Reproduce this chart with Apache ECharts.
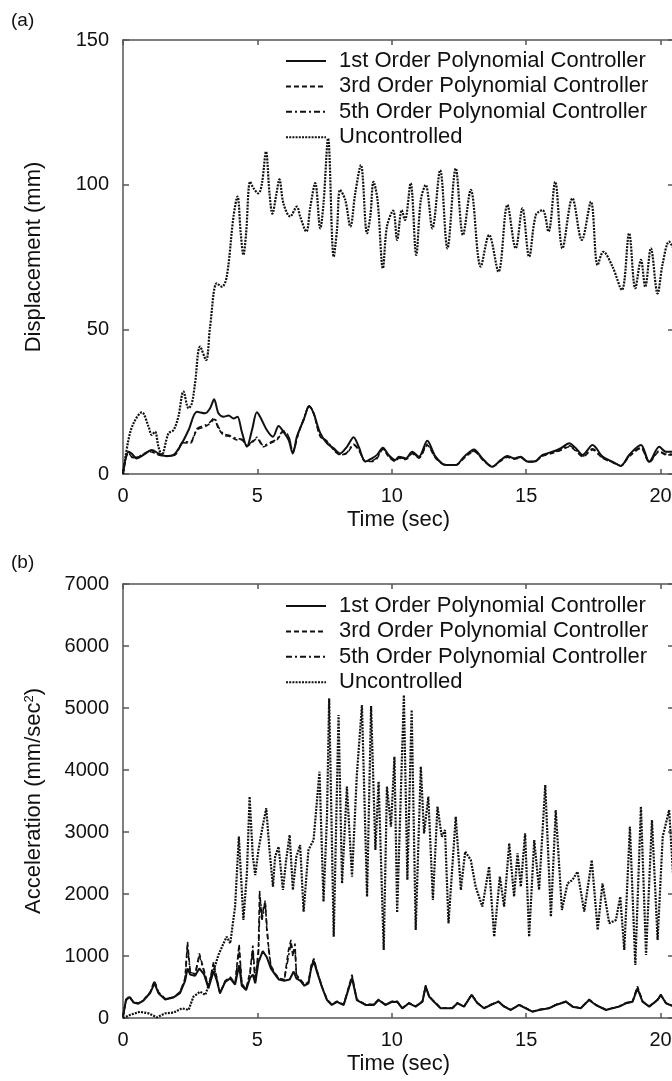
<!DOCTYPE html>
<html>
<head>
<meta charset="utf-8">
<title>Displacement and acceleration response</title>
<script src="https://cdn.jsdelivr.net/npm/echarts@6/dist/echarts.min.js"></script>
<style>
  html, body { margin: 0; padding: 0; overflow: hidden; background: #fff; }
  #chart { width: 680px; height: 1081px; }
</style>
</head>
<body>
<div id="chart"></div>
<script>
const seriesNames = [
  '1st Order Polynomial Controller',
  '3rd Order Polynomial Controller',
  '5th Order Polynomial Controller',
  'Uncontrolled'
]
const timeTicks = [0, 5, 10, 15, 20]
const timeMax = 20.5 // figure is cropped a little after 20 s
const dispTicks = [0, 50, 100, 150]
const accelTicks = [0, 1000, 2000, 3000, 4000, 5000, 6000, 7000]

// (a) displacement, mm  [time s, value]
const dispUncontrolled = [[0, 0], [0.2, 11.7], [0.39, 17.5], [0.7, 21.3], [0.95, 16.4], [1.07, 13.5], [1.19, 14.6], [1.32, 9.4], [1.44, 6.6], [1.69, 14], [1.88, 15.2], [2.06, 19.8], [2.25, 28.5], [2.44, 22.7], [2.56, 24.4], [2.68, 31.3], [2.87, 44], [3.09, 39.4], [3.24, 50.9], [3.49, 65.9], [3.68, 64.7], [3.86, 68.2], [4.11, 88.9], [4.26, 95.9], [4.38, 83.2], [4.48, 75.7], [4.58, 83.2], [4.73, 101], [4.86, 98.7], [5.04, 97], [5.17, 100.5], [5.32, 111.4], [5.45, 97], [5.56, 90], [5.7, 96.4], [5.82, 101.8], [5.97, 93.5], [6.22, 89], [6.47, 92.4], [6.59, 89], [6.82, 83.8], [6.97, 92.4], [7.15, 100.5], [7.34, 84.9], [7.46, 93.5], [7.63, 116], [7.84, 75.1], [7.96, 84.3], [8.08, 98.2], [8.27, 94.7], [8.46, 85.5], [8.64, 97], [8.85, 106.8], [9.08, 83.2], [9.2, 88.9], [9.32, 101], [9.47, 94.7], [9.67, 71.1], [9.82, 85.5], [10.05, 91], [10.2, 80.9], [10.37, 91.2], [10.49, 87.8], [10.7, 100.5], [10.91, 75.7], [11.08, 94.7], [11.26, 99.9], [11.51, 84.9], [11.8, 105], [12.07, 78], [12.38, 105.6], [12.65, 82.6], [12.94, 98.2], [13.31, 71.7], [13.62, 82.6], [13.97, 69.9], [14.3, 93], [14.61, 78], [14.86, 91.8], [15.11, 75.1], [15.36, 89.5], [15.61, 91.2], [15.83, 83.8], [16.08, 101], [16.35, 78], [16.72, 95.3], [17.07, 80.9], [17.41, 94.1], [17.66, 72.2], [17.87, 76.8], [18.21, 71.7], [18.56, 63.6], [18.83, 83.2], [19.06, 64.2], [19.27, 74], [19.43, 64.7], [19.64, 78], [19.89, 62.4], [20.08, 72.8], [20.32, 80.3], [20.5, 77.4]]
const disp1st = [[0, 0], [0.2, 7.7], [0.32, 7.1], [0.51, 5.4], [0.76, 6.6], [1.07, 8.3], [1.32, 7.1], [1.57, 6.2], [1.88, 6.6], [2.19, 10.6], [2.44, 15.2], [2.75, 21.5], [3.06, 21], [3.24, 22.7], [3.39, 25.8], [3.55, 21], [3.74, 19.8], [3.93, 20.2], [4.11, 19.2], [4.26, 19.8], [4.42, 14.6], [4.61, 9.4], [4.8, 15.2], [4.98, 21.3], [5.1, 19.8], [5.35, 15.2], [5.58, 12.9], [5.79, 16.6], [5.97, 14.6], [6.16, 11.8], [6.32, 7.1], [6.47, 12.9], [6.72, 18.7], [6.93, 23.5], [7.09, 21], [7.34, 14.1], [7.59, 10.6], [7.84, 8.9], [8.08, 7.1], [8.33, 9.4], [8.58, 12.7], [8.77, 9.4], [9.02, 4.3], [9.26, 5.4], [9.45, 6.6], [9.67, 9.1], [9.88, 6.6], [10.13, 4.8], [10.27, 6], [10.52, 5.4], [10.76, 7.7], [11.01, 6], [11.32, 11.5], [11.63, 6], [12.01, 3.1], [12.38, 3.1], [12.69, 6], [13.06, 8.5], [13.37, 5.4], [13.74, 2.5], [14.05, 4.8], [14.3, 6.2], [14.55, 5.4], [14.8, 6], [15.05, 4.3], [15.3, 4.3], [15.61, 6.6], [15.98, 7.7], [16.29, 8.9], [16.6, 10.6], [16.85, 8.9], [17.1, 6.6], [17.47, 10], [17.84, 6], [18.21, 4.3], [18.52, 2.8], [18.83, 6.6], [19.27, 10], [19.58, 4.3], [19.95, 9.4], [20.2, 7.7], [20.5, 7.7]]
const disp3rd = [[0, 0], [0.2, 7.4], [0.39, 5.4], [0.64, 6.2], [1.01, 7.7], [1.32, 6.6], [1.63, 6.2], [1.94, 6.6], [2.25, 10.8], [2.5, 10.6], [2.75, 15.2], [3.06, 16.4], [3.24, 17.5], [3.39, 18.9], [3.55, 15.8], [3.74, 13.5], [3.99, 12.9], [4.24, 11.8], [4.42, 11.8], [4.61, 9.7], [4.8, 10.8], [4.98, 12.3], [5.23, 9.4], [5.48, 10.6], [5.73, 11.8], [5.97, 14.6], [6.16, 12.9], [6.32, 7.7], [6.53, 14.1], [6.72, 18.7], [6.93, 23.3], [7.09, 21], [7.34, 12.9], [7.59, 11.2], [7.84, 8.3], [8.08, 6.6], [8.33, 7.1], [8.58, 10], [8.77, 8.3], [9.02, 4.3], [9.26, 4.3], [9.45, 5.4], [9.67, 8.5], [9.88, 6], [10.13, 4.3], [10.27, 5.5], [10.52, 5], [10.76, 7], [11.01, 5.5], [11.32, 9.9], [11.63, 5.5], [12.01, 3], [12.38, 3], [12.69, 5.5], [13.06, 7.8], [13.37, 5], [13.74, 2.5], [14.05, 4.5], [14.3, 5.8], [14.55, 5.2], [14.8, 5.6], [15.05, 4.2], [15.3, 4.2], [15.61, 6.2], [15.98, 7.2], [16.29, 8.2], [16.6, 9.4], [16.85, 8], [17.1, 6], [17.47, 8.3], [17.84, 5.5], [18.21, 4], [18.52, 2.8], [18.83, 6], [19.27, 8.9], [19.58, 4], [19.95, 7.7], [20.2, 6.6], [20.5, 6.6]]
const disp5th = [[0, 0], [0.2, 7.6], [0.39, 5.6], [0.64, 6.3], [1.01, 7.9], [1.32, 6.8], [1.63, 6.1], [1.94, 6.8], [2.25, 11.2], [2.5, 11], [2.75, 15.6], [3.06, 16.9], [3.24, 17.9], [3.39, 19.4], [3.55, 16.2], [3.74, 13.9], [3.99, 13.2], [4.24, 12.2], [4.42, 12], [4.61, 9.9], [4.8, 11.2], [4.98, 12.7], [5.23, 9.8], [5.48, 10.9], [5.73, 12.1], [5.97, 14.9], [6.16, 13.1], [6.32, 7.9], [6.53, 14.3], [6.72, 18.9], [6.93, 23.6], [7.09, 21.2], [7.34, 13.2], [7.59, 11.4], [7.84, 8.5], [8.08, 6.8], [8.33, 7.4], [8.58, 10.3], [8.77, 8.5], [9.02, 4.5], [9.26, 4.6], [9.45, 5.7], [9.67, 8.8], [9.88, 6.2], [10.13, 4.5], [10.27, 5.7], [10.52, 5.2], [10.76, 7.3], [11.01, 5.7], [11.32, 10.3], [11.63, 5.7], [12.01, 3.2], [12.38, 3.1], [12.69, 5.7], [13.06, 8], [13.37, 5.2], [13.74, 2.6], [14.05, 4.6], [14.3, 6], [14.55, 5.3], [14.8, 5.8], [15.05, 4.3], [15.3, 4.3], [15.61, 6.4], [15.98, 7.4], [16.29, 8.5], [16.6, 9.8], [16.85, 8.3], [17.1, 6.2], [17.47, 8.7], [17.84, 5.7], [18.21, 4.1], [18.52, 2.9], [18.83, 6.2], [19.27, 9.2], [19.58, 4.2], [19.95, 8], [20.2, 6.9], [20.5, 6.9]]

// (b) acceleration, mm/sec^2  [time s, value]
const accelUncontrolled = [[0, 0], [0.26, 50], [0.63, 100], [0.95, 75], [1.26, 10], [1.57, 75], [1.88, 86], [2.19, 156], [2.44, 130], [2.62, 344], [2.87, 425], [3.06, 371], [3.3, 667], [3.55, 1016], [3.74, 1204], [3.86, 1312], [3.99, 1204], [4.17, 1796], [4.31, 2925], [4.48, 1581], [4.61, 2333], [4.71, 3570], [4.83, 2602], [4.92, 2306], [5.04, 2710], [5.17, 3032], [5.33, 3382], [5.45, 2710], [5.58, 2118], [5.66, 2602], [5.79, 2763], [5.95, 2065], [6.07, 2548], [6.2, 2952], [6.32, 2065], [6.45, 2602], [6.59, 2790], [6.72, 1715], [6.9, 2710], [7.09, 2871], [7.31, 3973], [7.46, 1876], [7.59, 3247], [7.67, 5156], [7.84, 1312], [8.02, 4887], [8.15, 2172], [8.33, 3731], [8.52, 2280], [8.7, 3919], [8.89, 5048], [9.08, 1957], [9.23, 5032], [9.39, 2710], [9.51, 3812], [9.7, 1097], [9.82, 3731], [9.97, 3086], [10.1, 4215], [10.2, 1700], [10.45, 5210], [10.58, 2226], [10.74, 4968], [10.89, 1419], [11.08, 4054], [11.2, 2978], [11.36, 3570], [11.53, 1903], [11.7, 3409], [11.86, 2925], [11.98, 3032], [12.11, 1527], [12.38, 3247], [12.57, 2065], [12.73, 2683], [12.94, 2548], [13.12, 2118], [13.37, 1796], [13.62, 2441], [13.81, 1312], [14.02, 2280], [14.18, 1796], [14.37, 2817], [14.55, 1957], [14.68, 2656], [14.8, 2118], [14.96, 2978], [15.11, 1312], [15.3, 2871], [15.48, 2065], [15.71, 3758], [15.92, 1634], [16.1, 3355], [16.33, 1742], [16.54, 2172], [16.72, 2226], [16.91, 2360], [17.16, 1715], [17.44, 2548], [17.66, 1419], [17.84, 2172], [18.09, 1527], [18.34, 1581], [18.5, 1957], [18.65, 1097], [18.86, 3086], [19.06, 855], [19.27, 3409], [19.46, 1016], [19.68, 3194], [19.89, 1258], [20.08, 2925], [20.32, 3355], [20.5, 2065]]
const accel1st = [[0, 20], [0.11, 290], [0.24, 340], [0.39, 250], [0.57, 230], [0.76, 280], [1.01, 400], [1.17, 560], [1.32, 400], [1.57, 300], [1.88, 330], [2.12, 400], [2.31, 600], [2.4, 800], [2.5, 700], [2.68, 680], [2.84, 800], [3.02, 700], [3.18, 480], [3.37, 760], [3.49, 600], [3.61, 400], [3.8, 580], [3.99, 640], [4.17, 540], [4.32, 850], [4.42, 520], [4.58, 450], [4.73, 650], [4.83, 700], [4.92, 560], [5.04, 900], [5.2, 1080], [5.35, 980], [5.5, 800], [5.66, 700], [5.8, 620], [6.0, 600], [6.2, 620], [6.35, 750], [6.45, 640], [6.6, 600], [6.75, 520], [6.9, 560], [7.0, 800], [7.1, 920], [7.21, 750], [7.4, 500], [7.59, 290], [7.77, 210], [7.96, 260], [8.21, 210], [8.46, 560], [8.52, 640], [8.7, 290], [9.02, 210], [9.33, 210], [9.51, 290], [9.76, 210], [10.01, 260], [10.2, 263], [10.39, 156], [10.64, 237], [10.89, 183], [11.14, 263], [11.26, 505], [11.39, 344], [11.57, 263], [11.82, 156], [12.07, 156], [12.25, 156], [12.44, 237], [12.69, 183], [12.97, 371], [13.19, 237], [13.43, 156], [13.68, 210], [13.97, 263], [14.18, 183], [14.43, 129], [14.74, 210], [14.99, 156], [15.23, 102], [15.48, 129], [15.85, 156], [16.1, 210], [16.48, 263], [16.72, 183], [17.03, 156], [17.34, 290], [17.59, 210], [17.97, 129], [18.21, 156], [18.46, 183], [18.71, 237], [18.96, 263], [19.14, 478], [19.33, 263], [19.58, 183], [19.89, 290], [20.01, 371], [20.2, 237], [20.5, 183]]
const accel3rd = [[0, 20], [0.11, 300], [0.24, 350], [0.39, 260], [0.57, 240], [0.76, 290], [1.01, 420], [1.17, 600], [1.32, 420], [1.57, 310], [1.88, 340], [2.12, 420], [2.31, 640], [2.4, 1230], [2.5, 760], [2.68, 700], [2.84, 1040], [3.02, 760], [3.18, 500], [3.37, 900], [3.49, 650], [3.61, 400], [3.8, 600], [3.99, 660], [4.17, 560], [4.32, 1190], [4.42, 560], [4.58, 460], [4.73, 760], [4.83, 1170], [4.92, 600], [5.04, 1120], [5.08, 2050], [5.17, 1560], [5.23, 1800], [5.3, 1850], [5.35, 1420], [5.43, 1100], [5.5, 850], [5.66, 720], [5.8, 640], [6.0, 620], [6.16, 1100], [6.25, 1260], [6.32, 990], [6.4, 1200], [6.45, 700], [6.6, 620], [6.75, 540], [6.9, 580], [7.0, 850], [7.1, 960], [7.21, 780], [7.4, 510], [7.59, 300], [7.77, 220], [7.96, 270], [8.21, 220], [8.46, 600], [8.52, 700], [8.7, 300], [9.02, 220], [9.33, 220], [9.51, 300], [9.76, 220], [10.01, 270], [10.2, 270], [10.39, 160], [10.64, 245], [10.89, 190], [11.14, 270], [11.26, 530], [11.39, 350], [11.57, 270], [11.82, 160], [12.07, 160], [12.25, 160], [12.44, 245], [12.69, 190], [12.97, 380], [13.19, 245], [13.43, 160], [13.68, 215], [13.97, 270], [14.18, 190], [14.43, 135], [14.74, 215], [14.99, 160], [15.23, 105], [15.48, 135], [15.85, 160], [16.1, 215], [16.48, 270], [16.72, 190], [17.03, 160], [17.34, 300], [17.59, 215], [17.97, 135], [18.21, 160], [18.46, 190], [18.71, 245], [18.96, 270], [19.14, 510], [19.33, 270], [19.58, 190], [19.89, 300], [20.01, 380], [20.2, 245], [20.5, 190]]
const accel5th = [[0, 20], [0.11, 280], [0.24, 345], [0.39, 255], [0.57, 235], [0.76, 285], [1.01, 410], [1.17, 590], [1.32, 410], [1.57, 305], [1.88, 335], [2.12, 410], [2.31, 620], [2.4, 1150], [2.5, 740], [2.68, 690], [2.84, 1000], [3.02, 740], [3.18, 490], [3.37, 870], [3.49, 630], [3.61, 400], [3.8, 590], [3.99, 650], [4.17, 550], [4.32, 1120], [4.42, 540], [4.58, 455], [4.73, 720], [4.83, 1100], [4.92, 580], [5.04, 1050], [5.1, 1950], [5.17, 1650], [5.23, 1700], [5.28, 1900], [5.35, 1500], [5.43, 1050], [5.5, 830], [5.66, 710], [5.8, 630], [6.0, 610], [6.16, 1000], [6.25, 1200], [6.32, 1050], [6.4, 1130], [6.45, 680], [6.6, 610], [6.75, 530], [6.9, 570], [7.0, 830], [7.1, 940], [7.21, 770], [7.4, 505], [7.59, 295], [7.77, 215], [7.96, 265], [8.21, 215], [8.46, 580], [8.52, 670], [8.7, 295], [9.02, 215], [9.33, 215], [9.51, 295], [9.76, 215], [10.01, 265], [10.2, 265], [10.39, 158], [10.64, 240], [10.89, 186], [11.14, 266], [11.26, 515], [11.39, 347], [11.57, 266], [11.82, 158], [12.07, 158], [12.25, 158], [12.44, 240], [12.69, 186], [12.97, 375], [13.19, 240], [13.43, 158], [13.68, 212], [13.97, 266], [14.18, 186], [14.43, 132], [14.74, 212], [14.99, 158], [15.23, 104], [15.48, 132], [15.85, 158], [16.1, 212], [16.48, 266], [16.72, 186], [17.03, 158], [17.34, 295], [17.59, 212], [17.97, 132], [18.21, 158], [18.46, 186], [18.71, 240], [18.96, 266], [19.14, 495], [19.33, 266], [19.58, 186], [19.89, 295], [20.01, 375], [20.2, 240], [20.5, 186]]

const font = '"Liberation Sans", Arial, Helvetica, sans-serif'
const ink = '#111'
const frame = '#555'

// line look per legend entry
const lineTypes = [
  { type: 'solid', width: 2 },
  { type: [5, 3], width: 1.6 },
  { type: [6, 3, 2, 3], width: 1.6 },
  { type: [2, 1.2], width: 2.2 }
]

function xAxisFor (grid, position) {
  const main = position === 'bottom'
  return {
    type: 'value',
    gridIndex: grid,
    position: position,
    min: timeTicks[0],
    max: timeMax,
    interval: timeTicks[1] - timeTicks[0],
    name: main ? 'Time (sec)' : '',
    nameLocation: 'middle',
    nameGap: 35,
    nameTextStyle: { fontSize: 22, color: ink, fontFamily: font },
    axisLine: { show: true, onZero: false, lineStyle: { color: frame, width: 1.5 } },
    axisTick: { show: true, inside: true, length: 5, lineStyle: { color: frame, width: 1.5 } },
    axisLabel: {
      show: main,
      margin: 12,
      fontSize: 20,
      color: ink,
      fontFamily: font,
      formatter: v => (timeTicks.indexOf(v) >= 0 ? String(v) : '')
    },
    splitLine: { show: false }
  }
}

function yAxisFor (grid, position, ticks, name, rich) {
  const main = position === 'left'
  return {
    type: 'value',
    gridIndex: grid,
    position: position,
    min: ticks[0],
    max: ticks[ticks.length - 1],
    interval: ticks[1] - ticks[0],
    name: main ? name : '',
    nameLocation: 'middle',
    nameGap: 78,
    nameTextStyle: { fontSize: 22, color: ink, fontFamily: font, rich: rich },
    axisLine: { show: true, onZero: false, lineStyle: { color: frame, width: 1.5 } },
    axisTick: { show: true, inside: true, length: 6, lineStyle: { color: frame, width: 1.5 } },
    axisLabel: { show: main, margin: 14, fontSize: 20, color: ink, fontFamily: font, formatter: v => String(v) },
    splitLine: { show: false }
  }
}

function lineSeries (idx, axis, data, smooth) {
  return {
    name: seriesNames[idx],
    type: 'line',
    xAxisIndex: axis,
    yAxisIndex: axis,
    data: data,
    smooth: smooth,
    symbol: 'none',
    z: idx === 3 ? 2 : 3,
    lineStyle: { color: ink, type: lineTypes[idx].type, width: lineTypes[idx].width },
    itemStyle: { color: ink }
  }
}

function legendAt (top) {
  return {
    data: seriesNames,
    orient: 'vertical',
    left: 285,
    top: top,
    padding: 0,
    itemWidth: 40,
    itemHeight: 14,
    itemGap: 3.4,
    selectedMode: false,
    itemStyle: { opacity: 0 }, // only the line sample, no marker
    textStyle: { fontSize: 22, lineHeight: 22, color: ink, fontFamily: font, padding: [0, 0, 0, 8] }
  }
}

const accelRich = {
  a: { fontSize: 22, color: ink, fontFamily: font },
  s: { fontSize: 13, color: ink, fontFamily: font, verticalAlign: 'top', lineHeight: 13 }
}

const chart = echarts.init(document.getElementById('chart'), null, { renderer: 'canvas' })

const option = {
  animation: false,
  backgroundColor: '#fff',
  title: [
    { text: '(a)', left: 11, top: 11, padding: 0, textStyle: { fontSize: 19, fontWeight: 'normal', color: ink, fontFamily: font } },
    { text: '(b)', left: 11, top: 553, padding: 0, textStyle: { fontSize: 19, fontWeight: 'normal', color: ink, fontFamily: font } }
  ],
  legend: [legendAt(50), legendAt(595)],
  grid: [
    { left: 123, top: 40, width: 551, height: 434, outerBoundsMode: 'none' },
    { left: 123, top: 584, width: 551, height: 434, outerBoundsMode: 'none' }
  ],
  xAxis: [
    xAxisFor(0, 'bottom'), xAxisFor(0, 'top'),
    xAxisFor(1, 'bottom'), xAxisFor(1, 'top')
  ],
  yAxis: [
    yAxisFor(0, 'left', dispTicks, 'Displacement (mm)'),
    yAxisFor(0, 'right', dispTicks, ''),
    yAxisFor(1, 'left', accelTicks, '{a|Acceleration (mm/sec}{s|2}{a|)}', accelRich),
    yAxisFor(1, 'right', accelTicks, '')
  ],
  series: [
    lineSeries(3, 0, dispUncontrolled, 0.35),
    lineSeries(0, 0, disp1st, 0.3),
    lineSeries(1, 0, disp3rd, 0.3),
    lineSeries(2, 0, disp5th, 0.3),
    lineSeries(3, 2, accelUncontrolled, false),
    lineSeries(0, 2, accel1st, false),
    lineSeries(1, 2, accel3rd, false),
    lineSeries(2, 2, accel5th, false)
  ]
}

chart.setOption(option)
</script>
</body>
</html>
